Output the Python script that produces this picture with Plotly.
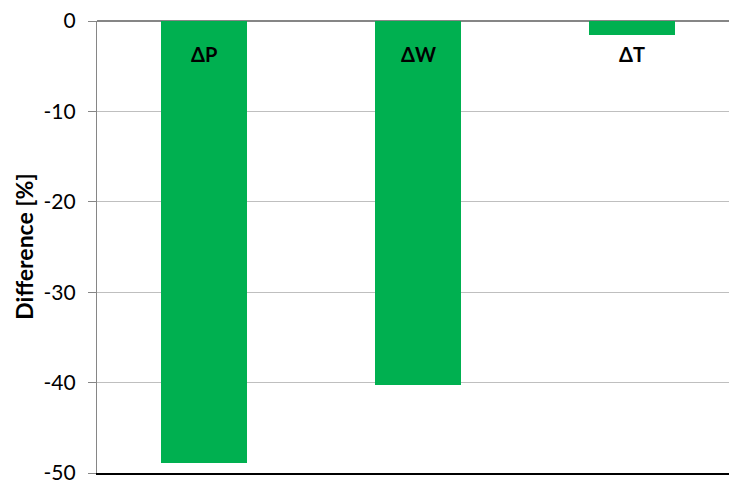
import plotly.graph_objects as go

# Relative differences of the three quantities
categories = ["ΔP", "ΔW", "ΔT"]
differences = [-48.9, -40.3, -1.6]
label_y = -3.6          # vertical position of the in-chart category labels
y_ticks = [0, -10, -20, -30, -40, -50]

FONT = "Lato, 'Open Sans', sans-serif"
GREEN = "#00b050"
AXIS_GREY = "#868686"
GRID_GREY = "#bfbfbf"

fig = go.Figure()
fig.add_trace(go.Bar(
    x=list(range(len(categories))),
    y=differences,
    width=0.40,
    marker=dict(color=GREEN, line=dict(width=0)),
    hoverinfo="skip",
))

for i, name in enumerate(categories):
    fig.add_annotation(
        x=i, y=label_y, xref="x", yref="y",
        text=f"<b>{name}</b>", showarrow=False,
        font=dict(family=FONT, size=20, color="black"),
    )

fig.add_annotation(
    x=-0.116, y=0.5, xref="paper", yref="paper",
    text="<b>Difference [%]</b>", showarrow=False, textangle=-90,
    font=dict(family=FONT, size=23, color="black"),
    xanchor="center", yanchor="middle",
)

fig.update_layout(
    width=729, height=481,
    margin=dict(l=97, r=0, t=21, b=8),
    plot_bgcolor="white", paper_bgcolor="white",
    showlegend=False,
    bargap=0,
    font=dict(family=FONT, size=18, color="black"),
    xaxis=dict(
        range=[-0.5, 2.453],
        showticklabels=False, ticks="",
        showgrid=False, zeroline=False,
        showline=True, linecolor="black", linewidth=1.5,
        automargin=False,
        fixedrange=True,
    ),
    yaxis=dict(
        range=[-50, 0],
        tickvals=y_ticks,
        ticktext=[str(v) for v in y_ticks],
        ticks="outside", ticklen=8, tickcolor=AXIS_GREY, tickwidth=1,
        ticklabelstandoff=8,
        ticklabeloverflow="allow",
        automargin=False,
        showgrid=True, gridcolor=GRID_GREY, gridwidth=1.3,
        zeroline=True, zerolinecolor=AXIS_GREY, zerolinewidth=1.6,
        showline=True, linecolor=AXIS_GREY, linewidth=1.3,
        tickfont=dict(family=FONT, size=21, color="black"),
        fixedrange=True,
    ),
)

fig.write_html("out.html")
